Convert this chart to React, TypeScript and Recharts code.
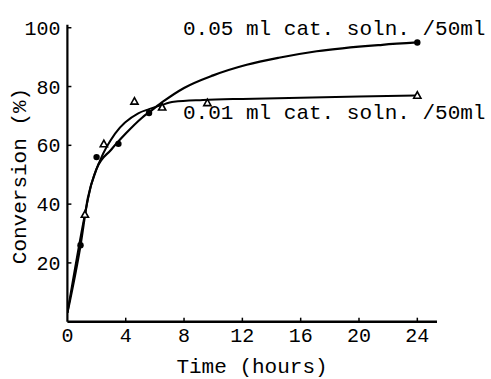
import React from 'react';
import { ComposedChart, Line, Scatter, XAxis, YAxis, Customized } from 'recharts';

// Measured points: 0.05 ml cat. soln. /50ml (filled circles)
const hours05 = [0.9, 2.0, 3.5, 5.6, 24];
const conv05 = [26, 56, 60.5, 71, 95];
// Measured points: 0.01 ml cat. soln. /50ml (triangles)
const hours01 = [1.2, 2.5, 4.6, 6.5, 9.6, 24];
const conv01 = [36.5, 60.5, 75, 73, 74.5, 77];

// Hand-drawn fitted curves
const curveHours05 = [0, 0.9, 1.4, 2, 3, 4, 5.1, 5.8, 6.6, 8, 10, 12.3, 14.5, 17.1, 21.6, 24];
const curveConv05 = [3, 26, 42, 52, 58.5, 64, 69.3, 72, 75, 79.5, 83.8, 87.4, 89.8, 92, 94.2, 95];
const curveHours01 = [0, 1.2, 1.6, 2.25, 3.27, 4.86, 5.6, 6.4, 7.3, 9.3, 12, 16, 20, 24];
const curveConv01 = [3, 36.5, 46, 55, 64, 70.9, 72.3, 73.6, 74.8, 75.4, 75.8, 76.2, 76.6, 77];

const xTicks = [0, 4, 8, 12, 16, 20, 24];
const yTicks = [20, 40, 60, 80, 100];

const label05 = '0.05 ml cat. soln. /50ml';
const label01 = '0.01 ml cat. soln. /50ml';
const xTitle = 'Time (hours)';
const yTitle = 'Conversion (%)';

const FONT = '"Liberation Mono", "Courier New", monospace';

const pts05 = hours05.map((x, i) => ({ x, y: conv05[i] }));
const pts01 = hours01.map((x, i) => ({ x, y: conv01[i] }));
const line05 = curveHours05.map((x, i) => ({ x, y: curveConv05[i] }));
const line01 = curveHours01.map((x, i) => ({ x, y: curveConv01[i] }));

const XTick = (props: any) => {
  const { x, y, payload } = props;
  return (
    <g>
      {payload.value !== 0 && <line x1={x} x2={x} y1={y} y2={y - 4} stroke="#000" strokeWidth={1.5} />}
      <text x={x} y={y + 20} textAnchor="middle" fontFamily={FONT} fontSize={20} fill="#000">
        {payload.value}
      </text>
    </g>
  );
};

const YTick = (props: any) => {
  const { x, y, payload } = props;
  return (
    <g>
      <line x1={x} x2={x + 4} y1={y} y2={y} stroke="#000" strokeWidth={1.5} />
      <text x={x - 7} y={y} dy="0.35em" textAnchor="end" fontFamily={FONT} fontSize={20} fill="#000">
        {payload.value}
      </text>
    </g>
  );
};

const Dot = (props: any) => {
  const { cx, cy } = props;
  return <circle cx={cx} cy={cy} r={3.2} fill="#000" />;
};

const Tri = (props: any) => {
  const { cx, cy } = props;
  const s = 3.6;
  return (
    <path
      d={`M${cx},${cy - s} L${cx + s},${cy + s * 0.8} L${cx - s},${cy + s * 0.8} Z`}
      fill="#fff"
      stroke="#000"
      strokeWidth={1.6}
    />
  );
};

const Labels = () => (
  <g fontFamily={FONT} fontSize={21} fill="#000">
    <text x={183} y={28} dy="0.35em">{label05}</text>
    <text x={183} y={112} dy="0.35em">{label01}</text>
    <text x={252} y={373} textAnchor="middle">{xTitle}</text>
    <text x={19} y={176} dy="0.35em" textAnchor="middle" transform="rotate(-90 19 176)">{yTitle}</text>
  </g>
);

export default function App() {
  return (
    <div style={{ position: 'absolute', left: 0, top: 0, background: '#fff' }}>
      <ComposedChart
        width={491}
        height={379}
        margin={{ top: 24.8, right: 54, left: 66.4, bottom: 56.3 }}
      >
        <XAxis
          dataKey="x"
          type="number"
          domain={[0, 25.35]}
          ticks={xTicks}
          height={1}
          tickSize={0}
          tickMargin={0}
          tickLine={false}
          tick={<XTick />}
          axisLine={{ stroke: '#000', strokeWidth: 2.5 }}
          allowDataOverflow
        />
        <YAxis
          type="number"
          domain={[0, 101]}
          ticks={yTicks}
          width={1}
          tickSize={0}
          tickMargin={0}
          tickLine={false}
          tick={<YTick />}
          axisLine={{ stroke: '#000', strokeWidth: 2.2 }}
          allowDataOverflow
        />
        <Line data={line05} dataKey="y" type="monotoneX" stroke="#000" strokeWidth={2.2} dot={false} isAnimationActive={false} />
        <Line data={line01} dataKey="y" type="monotoneX" stroke="#000" strokeWidth={2} dot={false} isAnimationActive={false} />
        <Scatter data={pts05} dataKey="y" shape={<Dot />} isAnimationActive={false} />
        <Scatter data={pts01} dataKey="y" shape={<Tri />} isAnimationActive={false} />
        <Customized component={<Labels />} />
      </ComposedChart>
    </div>
  );
}
